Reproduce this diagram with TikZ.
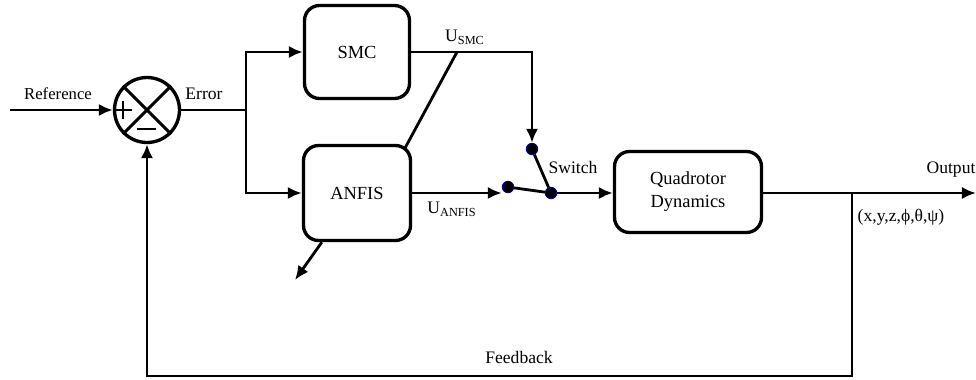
\documentclass[tikz,border=0pt]{standalone}
\usepackage{fontspec}
\setmainfont{Liberation Serif}
\usetikzlibrary{arrows.meta,calc}
\begin{document}
\begin{tikzpicture}[x=0.02cm,y=-0.02cm,line width=1.6pt,
  arr/.style={-{Latex[length=8pt,width=7pt]}},
  blk/.style={draw,line width=1.9pt,rounded corners=0.3cm,align=center,font=\fontsize{10.5}{13}\selectfont},
  contact/.style={circle,fill=black,draw=blue!70!black,line width=0.5pt,inner sep=0pt,minimum size=0.23cm},
  lbl/.style={font=\fontsize{10}{12}\selectfont}]
\useasboundingbox (0,0) rectangle (976,379);
\node[circle,draw,line width=1.9pt,minimum size=1.3cm,inner sep=0pt] (sum) at (147,110) {};
\draw[line width=1.8pt] (sum.north west) -- (sum.south east);
\draw[line width=1.8pt] (sum.north east) -- (sum.south west);
\draw[line width=0.6pt] (114,110) -- (132,110) (123,101) -- (123,119);
\draw[line width=0.6pt] (137,129) -- (156,129);
\node[blk,minimum width=2.1cm,minimum height=1.86cm] (smc) at (357,52) {SMC};
\node[blk,minimum width=2.14cm,minimum height=1.9cm] (anfis) at (357,193) {ANFIS};
\node[blk,minimum width=2.94cm,minimum height=1.62cm] (quad) at (688,192) {Quadrotor\\Dynamics};
\node[contact] (ctop) at (532,149) {};
\node[contact] (cleft) at (508,187) {};
\node[contact] (pivot) at (551,193) {};
\coordinate (refin) at (10,110);
\coordinate (bus) at (246,110);
\coordinate (tap) at (457,52);
\coordinate (fb) at (852,193);
\coordinate (fbcorner) at (147,376);
\coordinate (out) at (976,193);
\coordinate (anfisfree) at (295,280);
\draw[arr] (refin) -- (sum.west);
\draw (sum.east) -- (bus);
\draw[arr] (bus) |- (smc.west);
\draw[arr] (bus) |- (anfis.west);
\draw[arr] (smc.east) -| (ctop.north);
\draw (tap) -- ($(anfis.north east)+(-7,4)$);
\draw[arr] (anfis.east) -- (anfis.east -| cleft.west);
\draw (cleft) -- (pivot);
\draw (ctop) -- (pivot);
\draw[arr] (pivot) -- (pivot -| quad.west);
\draw[arr] (quad.east |- pivot) -- (out);
\draw[arr] (fb) |- (fbcorner) -- (sum.south);
\draw[arr] ($(anfis.south west)+(20,0)$) -- (anfisfree);
\node[lbl,font=\fontsize{9.5}{11}\selectfont] (reflbl) at (58,94) {Reference};
\node[lbl] (errlbl) at (204,94) {Error};
\node[lbl] (usmc) at (465,37) {U\textsubscript{SMC}};
\node[lbl] (uanfis) at (452,209) {U\textsubscript{ANFIS}};
\node[lbl] (swlbl) at (573,167) {Switch};
\node[lbl] (outlbl) at (951,170) {Output};
\node[lbl] (statelbl) at (901,217) {(x,y,z,ϕ,θ,ψ)};
\node[lbl] (fblbl) at (519,357) {Feedback};
\end{tikzpicture}
\end{document}
